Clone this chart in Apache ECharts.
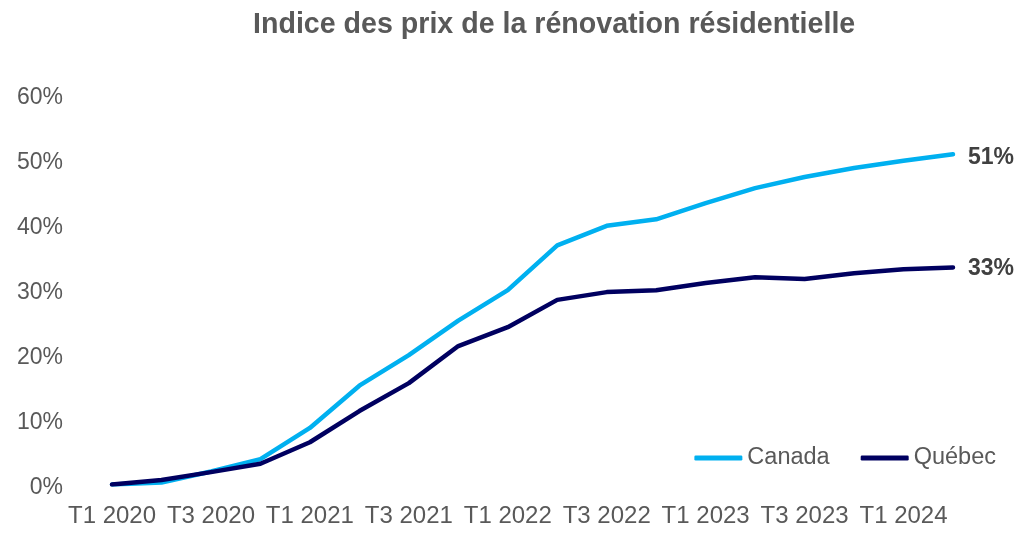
<!DOCTYPE html>
<html><head><meta charset="utf-8">
<script src="https://cdn.jsdelivr.net/npm/echarts@6/dist/echarts.min.js"></script>
<style>html,body{margin:0;padding:0;background:#fff}#c{width:1024px;height:546px}</style>
</head><body><div id="c"></div>
<script>
const categories = ['T1 2020','T2 2020','T3 2020','T4 2020','T1 2021','T2 2021','T3 2021','T4 2021','T1 2022','T2 2022','T3 2022','T4 2022','T1 2023','T2 2023','T3 2023','T4 2023','T1 2024','T2 2024'];
const canada = [0, 0.3, 2.0, 3.9, 8.7, 15.2, 19.9, 25.2, 29.9, 36.8, 39.8, 40.8, 43.3, 45.6, 47.3, 48.7, 49.8, 50.8];
const quebec = [0, 0.7, 1.9, 3.2, 6.5, 11.3, 15.6, 21.3, 24.2, 28.4, 29.6, 29.9, 31.0, 31.9, 31.6, 32.5, 33.1, 33.4];
const yTicks = [0, 10, 20, 30, 40, 50, 60];
const title = 'Indice des prix de la rénovation résidentielle';

const font = 'Liberation Sans, Arial, sans-serif';
const chart = echarts.init(document.getElementById('c'));
chart.setOption({
  animation: false,
  title: { text: title, left: 248, top: 6,
    textStyle: { fontFamily: font, fontSize: 28.6, fontWeight: 'bold', color: '#595959' } },
  grid: { left: 112, right: 71, top: 94.5, bottom: 61.5 },
  legend: {
    right: 23, bottom: 71, itemGap: 31, itemWidth: 48, itemHeight: 5, icon: 'roundRect',
    textStyle: { fontFamily: font, fontSize: 23.5, color: '#595959' },
    data: ['Canada', 'Québec']
  },
  xAxis: {
    type: 'category', data: categories, boundaryGap: false,
    axisLine: { show: false }, axisTick: { show: false },
    axisLabel: { interval: 1, fontFamily: font, fontSize: 24, color: '#595959', margin: 20 }
  },
  yAxis: {
    type: 'value', min: yTicks[0], max: yTicks[yTicks.length-1], interval: 10,
    splitLine: { show: false }, axisLine: { show: false }, axisTick: { show: false },
    axisLabel: { formatter: '{value}%', fontFamily: font, fontSize: 23, color: '#595959', margin: 49,
      verticalAlign: 'top', lineHeight: 6 }
  },
  series: [
    { name: 'Canada', type: 'line', data: canada, symbol: 'none',
      lineStyle: { width: 4.5, color: '#00B0F0', cap: 'round', join: 'round' }, itemStyle: { color: '#00B0F0' },
      endLabel: { show: true, distance: 15, formatter: p => Math.round(p.value) + '%', verticalAlign: 'top', lineHeight: 6,
        fontFamily: font, fontSize: 23, fontWeight: 'bold', color: '#404040' } },
    { name: 'Québec', type: 'line', data: quebec, symbol: 'none',
      lineStyle: { width: 4.5, color: '#000060', cap: 'round', join: 'round' }, itemStyle: { color: '#000060' },
      endLabel: { show: true, distance: 15, formatter: p => Math.round(p.value) + '%', verticalAlign: 'top', lineHeight: 2,
        fontFamily: font, fontSize: 23, fontWeight: 'bold', color: '#404040' } }
  ]
});
</script></body></html>
